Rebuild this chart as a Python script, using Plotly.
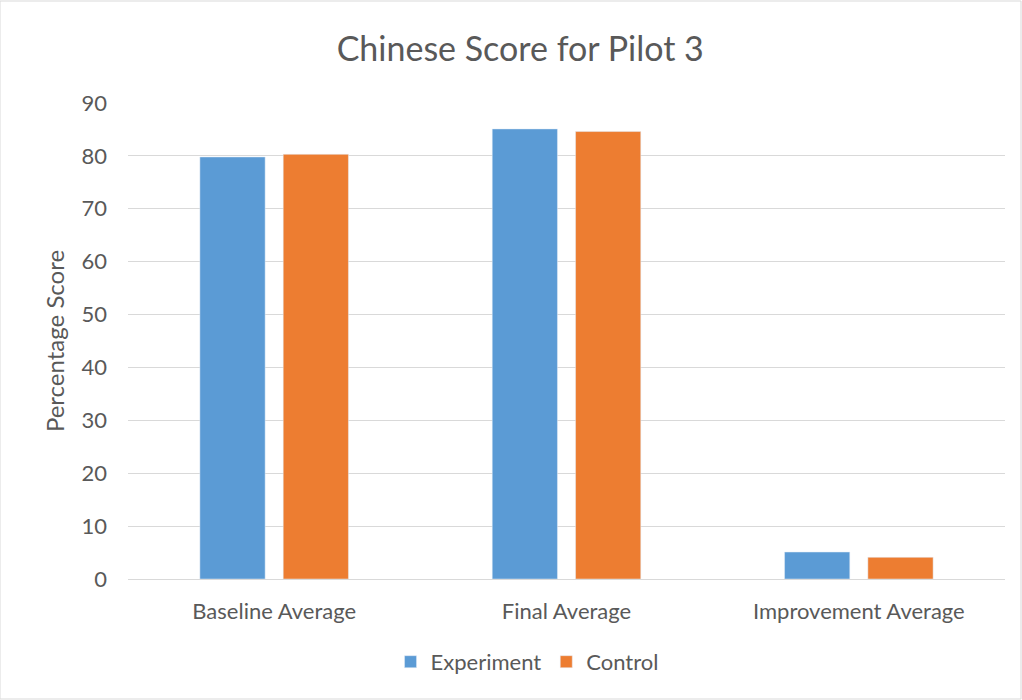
import plotly.graph_objects as go

categories = ["Baseline Average", "Final Average", "Improvement Average"]
experiment = [79.8, 85.1, 5.1]
control = [80.3, 84.6, 4.1]
y_ticks = [0, 10, 20, 30, 40, 50, 60, 70, 80, 90]

FONT = "Lato"
GREY = "#595959"

fig = go.Figure()
fig.add_trace(go.Bar(name="Experiment", x=categories, y=experiment, marker_color="#5B9BD5"))
fig.add_trace(go.Bar(name="Control", x=categories, y=control, marker_color="#ED7D31"))

fig.update_layout(
    width=1022, height=700,
    margin=dict(l=128, r=17, t=103, b=121),
    paper_bgcolor="white", plot_bgcolor="white",
    barmode="group", bargap=0.43, bargroupgap=0.217,
    title=dict(text="Chinese Score for Pilot 3", x=0.509, xanchor="center", y=0.93, yanchor="middle",
               font=dict(family=FONT, size=34, color=GREY)),
    font=dict(family=FONT, size=21, color=GREY),
    legend=dict(orientation="h", x=0.455, xanchor="center", y=-0.13, yanchor="top",
                font=dict(family=FONT, size=22, color=GREY), traceorder="normal",
                itemwidth=30),
    xaxis=dict(showgrid=False, showline=True, linecolor="#D9D9D9", linewidth=1,
               tickfont=dict(size=22, color=GREY), ticks="", ticklabelstandoff=13),
    yaxis=dict(range=[0, 90], tickvals=y_ticks, showgrid=True, gridcolor="#D9D9D9",
               zeroline=False, ticks="", tickfont=dict(size=22, color=GREY), ticklabelstandoff=20,
               title=dict(text="Percentage Score", font=dict(size=24, color=GREY), standoff=10)),
    shapes=[dict(type="rect", xref="paper", yref="paper", x0=-128/877, x1=1+16/877,
                 y0=-120/476, y1=1+102/476, line=dict(color="#D9D9D9", width=1))],
)

fig.write_html("out.html")
